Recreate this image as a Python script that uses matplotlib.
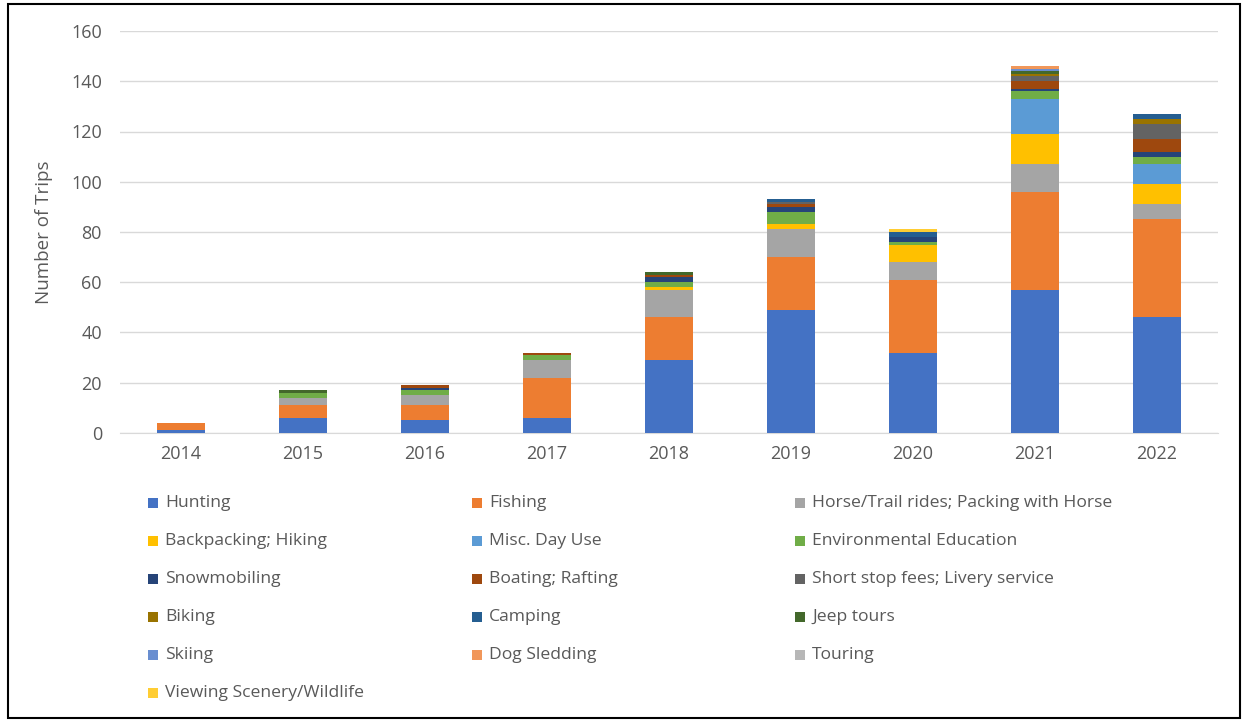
import matplotlib as mpl
import matplotlib.pyplot as plt
import matplotlib.patches as mpatches
import numpy as np

mpl.rcParams.update({"font.family": ["Open Sans", "DejaVu Sans"], "font.size": 11})

W, H = 1243, 721

years = ["2014", "2015", "2016", "2017", "2018", "2019", "2020", "2021", "2022"]

activities = [
    "Hunting", "Fishing", "Horse/Trail rides; Packing with Horse",
    "Backpacking; Hiking", "Misc. Day Use", "Environmental Education",
    "Snowmobiling", "Boating; Rafting", "Short stop fees; Livery service",
    "Biking", "Camping", "Jeep tours",
    "Skiing", "Dog Sledding", "Touring",
    "Viewing Scenery/Wildlife",
]

colors = [
    "#4472C4", "#ED7D31", "#A5A5A5",
    "#FFC000", "#5B9BD5", "#70AD47",
    "#264478", "#9E480E", "#636363",
    "#997300", "#255E91", "#43682B",
    "#698ED0", "#F1975A", "#B7B7B7",
    "#FFCD33",
]

# trips per year, one list per activity (2014 .. 2022)
hunting     = [1, 6, 5, 6, 29, 49, 32, 57, 46]
fishing     = [3, 5, 6, 16, 17, 21, 29, 39, 39]
horse       = [0, 3, 4, 7, 11, 11, 7, 11, 6]
backpacking = [0, 0, 0, 0, 1, 2, 7, 12, 8]
misc_day    = [0, 0, 0, 0, 0, 0, 0, 14, 8]
env_ed      = [0, 2, 2, 2, 2, 5, 1, 3, 3]
snowmobile  = [0, 0, 1, 0, 2, 2, 2, 1, 2]
boating     = [0, 0, 1, 1, 1, 1, 0, 3, 5]
short_stop  = [0, 0, 0, 0, 0, 1, 0, 2, 6]
biking      = [0, 0, 0, 0, 0, 0, 0, 1, 2]
camping     = [0, 0, 0, 0, 0, 1, 2, 0, 2]
jeep        = [0, 1, 0, 0, 1, 0, 0, 1, 0]
skiing      = [0, 0, 0, 0, 0, 0, 0, 1, 0]
dog_sled    = [0, 0, 0, 0, 0, 0, 0, 1, 0]
touring     = [0, 0, 0, 0, 0, 0, 0, 0, 0]
viewing     = [0, 0, 0, 0, 0, 0, 1, 0, 0]

series = [hunting, fishing, horse, backpacking, misc_day, env_ed,
          snowmobile, boating, short_stop, biking, camping, jeep,
          skiing, dog_sled, touring, viewing]

fig = plt.figure(figsize=(W / 100, H / 100), dpi=100)
ax = fig.add_axes([120 / W, 1 - 433 / H, 1098 / W, 402 / H])

x = np.arange(len(years))
bottom = np.zeros(len(years))
for vals, c, name in zip(series, colors, activities):
    ax.bar(x, vals, 0.4, bottom=bottom, color=c, label=name, zorder=3)
    bottom += np.array(vals)

ax.set_xlim(-0.5, len(years) - 0.5)
ax.set_ylim(0, 160)
ax.set_yticks(range(0, 161, 20))
ax.set_xticks(x)
ax.set_xticklabels(years)
ax.tick_params(length=0, colors="#595959", labelsize=13)
ax.tick_params(axis="x", pad=9)
ax.tick_params(axis="y", pad=13)
ax.grid(axis="y", color="#D9D9D9", lw=1, zorder=0)
for s in ["top", "right", "left"]:
    ax.spines[s].set_visible(False)
ax.spines["bottom"].set_color("#D9D9D9")
ax.set_ylabel("Number of Trips", color="#595959", fontsize=13.5)
ax.yaxis.set_label_coords(-67 / 1098, 0.5)

# legend laid out row by row in three columns
col_x = [148, 472, 795]
for i, (name, c) in enumerate(zip(activities, colors)):
    r, k = divmod(i, 3)
    px, py = col_x[k], 503 + 38 * r
    fig.patches.append(mpatches.Rectangle((px / W, 1 - (py + 5) / H), 10 / W, 10 / H,
                                          transform=fig.transFigure, facecolor=c,
                                          edgecolor="none"))
    fig.text((px + 17) / W, 1 - py / H, name, ha="left", va="center",
             color="#595959", fontsize=12.6)

# outer frame
fig.patches.append(mpatches.Rectangle((8 / W, 3 / H), 1232 / W, 714 / H,
                                      transform=fig.transFigure, fill=False,
                                      edgecolor="black", lw=1.5))

fig.savefig("out.png", dpi=100, facecolor="white")
